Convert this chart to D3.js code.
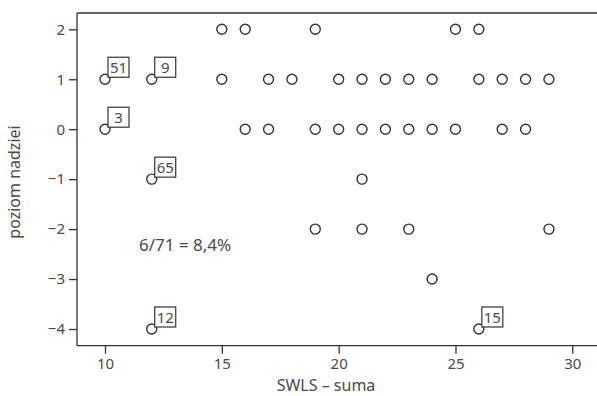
<!DOCTYPE html>
<html lang="pl">
<head>
    <meta charset="UTF-8">
    <title>SWLS – poziom nadziei</title>
    <script src="https://cdn.jsdelivr.net/npm/d3@7"></script>
    <style>
        body { margin: 0; background: #fff; }
        text { font-family: "Noto Sans", "Open Sans", sans-serif; fill: #4a4a4a; }
        .tick text { font-size: 15px; }
        .axis path, .axis line { stroke: #333; stroke-width: 1.3; }
        .lab { font-size: 17px; }
    </style>
</head>
<body>
    <svg id="chart" width="597" height="396"></svg>
    <script>
        // dane: SWLS suma (x) i poziom nadziei (y)
        const swls   = [15, 16, 19, 25, 26,
                        10, 12, 15, 17, 18, 20, 21, 22, 23, 24, 26, 27, 28, 29,
                        10, 16, 17, 19, 20, 21, 22, 23, 24, 25, 27, 28,
                        12, 21,
                        19, 21, 23, 29,
                        24,
                        12, 26]
        const nadzieja = [2, 2, 2, 2, 2,
                        1, 1, 1, 1, 1, 1, 1, 1, 1, 1, 1, 1, 1, 1,
                        0, 0, 0, 0, 0, 0, 0, 0, 0, 0, 0, 0,
                        -1, -1,
                        -2, -2, -2, -2,
                        -3,
                        -4, -4]
        // przypadki oznaczone numerem
        const caseIds = ["51", "9", "3", "65", "12", "15"]
        const caseX   = [10, 12, 10, 12, 12, 26]
        const caseY   = [1, 1, 0, -1, -4, -4]
        const xTicks = [10, 15, 20, 25, 30]
        const yTicks = [-4, -3, -2, -1, 0, 1, 2]
        const note = "6/71 = 8,4%"

        const svg = d3.select("#chart")
        const width = +svg.attr("width")
        const mLeft = 77, mTop = 13, mBottom = 345.7

        const x = d3.scaleLinear().domain([10, 30]).range([105, 572.3])
        const y = d3.scaleLinear().domain([-4, 2]).range([329, 29.3])

        // ramka górna
        svg.append("line").attr("x1", mLeft).attr("x2", width).attr("y1", mTop).attr("y2", mTop)
            .attr("stroke", "#333").attr("stroke-width", 1.3)

        const xAxis = svg.append("g").attr("class", "axis")
            .attr("transform", `translate(0,${mBottom})`)
            .call(d3.axisBottom(x).tickValues(xTicks).tickSize(8).tickSizeOuter(0).tickPadding(5))
        xAxis.select(".domain").attr("d", `M${mLeft},0H${width}`)

        const yAxis = svg.append("g").attr("class", "axis")
            .attr("transform", `translate(${mLeft},0)`)
            .call(d3.axisLeft(y).tickValues(yTicks).tickFormat(d3.format("d"))
                .tickSize(8).tickSizeOuter(0).tickPadding(4))
        yAxis.select(".domain").attr("d", `M0,${mTop}V${mBottom}`)

        svg.append("text").attr("font-size", 16)
            .attr("x", 326).attr("y", 391.2).attr("text-anchor", "middle")
            .text("SWLS – suma")
        svg.append("text").attr("font-size", 16)
            .attr("transform", "translate(20,182) rotate(-90)").attr("text-anchor", "middle")
            .text("poziom nadziei")

        // punkty
        svg.append("g").selectAll("circle").data(d3.range(swls.length)).join("circle")
            .attr("cx", i => x(swls[i])).attr("cy", i => y(nadzieja[i])).attr("r", 5)
            .attr("fill", "none").attr("stroke", "#333").attr("stroke-width", 1.4)

        // etykiety przypadków
        const lbl = svg.append("g").selectAll("g").data(d3.range(caseIds.length)).join("g")
            .attr("transform", i => `translate(${x(caseX[i]) + 3},${y(caseY[i]) - 2})`)
        lbl.append("rect").attr("x", 0).attr("y", -20).attr("width", 21).attr("height", 20)
            .attr("fill", "#fff").attr("stroke", "#333").attr("stroke-width", 1.2)
        lbl.append("text").attr("x", 10.5).attr("y", -4.5).attr("text-anchor", "middle")
            .attr("font-size", 15).text(i => caseIds[i])

        svg.append("text").attr("class", "lab").attr("x", 139).attr("y", 251).text(note)
    </script>
</body>
</html>
